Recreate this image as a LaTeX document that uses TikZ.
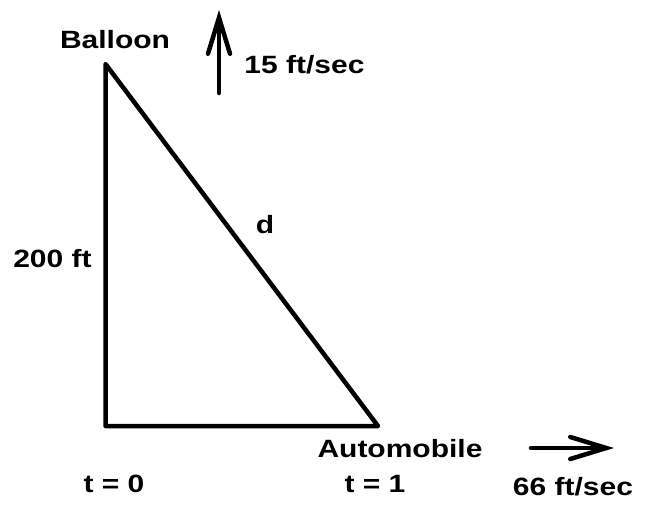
\documentclass[tikz,border=0pt]{standalone}
\usepackage{fontspec}
\setmainfont{Liberation Sans}[FakeStretch=1.2]
\usetikzlibrary{arrows.meta}
\begin{document}
\begin{tikzpicture}[x=1pt,y=-1pt,
  edge/.style={line width=4.5pt,line cap=round,line join=round},
  vel/.style={line width=4.5pt,line cap=round,-{Straight Barb[length=36pt,width=22pt,line cap=round]}},
  lbl/.style={anchor=base,inner sep=0pt,font=\fontsize{25}{30}\selectfont\bfseries}]
\useasboundingbox (0,0) rectangle (647,523);
\fill[white] (0,0) rectangle (647,523);
\coordinate (B) at (105.5,64);
\coordinate (O) at (105.5,426);
\coordinate (A) at (378,426);
\draw[edge] (B) -- (O) -- (A) -- cycle;
\coordinate (u0) at (219,93);
\coordinate (u1) at (219,10);
\draw[vel] (u0) -- (u1);
\coordinate (r0) at (531,448);
\coordinate (r1) at (614,448);
\draw[vel] (r0) -- (r1);
\node[lbl] (balloon) at (115,48) {Balloon};
\node[lbl] (v15) at (304.5,73) {15 ft/sec};
\node[lbl] (d) at (265,233) {d};
\node[lbl] (h) at (52.5,267) {200 ft};
\node[lbl] (auto) at (400,457) {Automobile};
\node[lbl] (t0) at (114,492) {t = 0};
\node[lbl] (t1) at (375,492) {t = 1};
\node[lbl] (v66) at (573,495) {66 ft/sec};
\end{tikzpicture}
\end{document}
